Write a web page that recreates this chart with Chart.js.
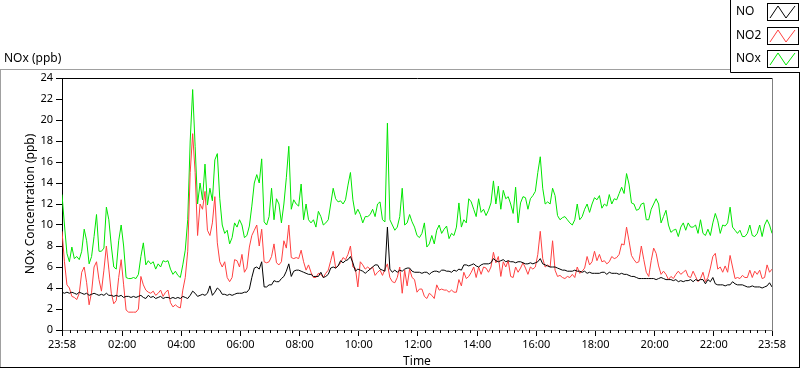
<!DOCTYPE html>
<html>
<head>
<meta charset="utf-8">
<script src="https://cdn.jsdelivr.net/npm/chart.js@4/dist/chart.umd.min.js"></script>
<style>
  html, body { margin: 0; padding: 0; background: #fff; }
  #wrap { width: 800px; height: 369px; }
</style>
</head>
<body>
<div id="wrap"><canvas id="chart" width="800" height="369"></canvas></div>
<script>
// readings every 5 minutes starting at 23:58
const startTime = '23:58';
const stepMinutes = 5;
const tickLabels = ['23:58', '02:00', '04:00', '06:00', '08:00', '10:00', '12:00',
                    '14:00', '16:00', '18:00', '20:00', '22:00', '23:58'];
const seriesNames = ['NO', 'NO2', 'NOx'];
const seriesColors = ['#000000', '#ff4040', '#00e600'];

const no = [
  // 23:58 - 05:53
  3.6,3.5,3.6,3.5,3.6,3.5,3.4,3.6,3.5,3.4, 3.5,3.3,3.4,3.5,3.4,3.3,3.4,3.3,3.5,3.3,
  3.3,3.2,3.3,3.2,3.3,3.1,3.2,3.2,3.1,3.2, 3.1,3.2,3.3,3.1,3.0,3.3,3.1,3.2,3.0,3.1,
  3.2,3.0,3.1,3.1,3.0,3.1,3.0,3.1,3.0,3.2, 3.1,3.0,3.3,3.7,3.5,3.2,3.3,3.4,3.3,3.5,
  4.2,3.3,3.6,4.0,3.8,3.4,3.4,3.3,3.4,3.3, 3.4,3.5,
  // 05:58 - 11:58
  3.5,3.5,3.6,3.6,3.9,5.0,5.9,6.0,5.8,6.5, 4.1,4.1,4.3,4.3,4.7,4.6,4.6,4.9,5.1,5.6,
  6.3,5.1,5.6,5.7,5.7,5.6,5.5,5.4,5.3,5.3, 5.1,5.1,5.1,5.5,5.0,5.1,5.3,5.9,6.0,5.9,
  6.1,6.6,6.4,6.6,6.7,7.0,6.4,5.6,5.8,5.7, 5.6,5.4,5.6,5.8,6.0,6.2,6.2,5.8,5.7,5.6,
  9.8,5.8,5.5,5.7,5.5,5.7,5.6,5.8,5.9,5.9, 5.6,5.5,5.5,
  // 12:03 - 17:58
  5.5,5.4,5.5,5.5,5.3,5.5,5.6,5.6,5.5, 5.7,5.7,5.6,5.6,5.5,5.7,5.6,5.8,5.7,6.2,
  6.2,6.1,6.2,6.3,6.1,6.0,6.2,6.3,6.3,6.3, 6.4,6.8,6.6,6.5,6.6,6.7,6.5,6.6,6.5,6.5,
  6.4,6.5,6.5,6.4,6.3,6.3,6.4,6.3,6.4,6.5, 6.8,6.3,6.2,6.1,6.0,6.0,6.0,5.9,5.8,5.7,
  5.7,5.6,5.6,5.6,5.7,5.6,5.6,5.5,5.6,5.4, 5.5,5.4,5.4,
  // 18:03 - 23:58
  5.4,5.4,5.5,5.5,5.3,5.5,5.4,5.4,5.4, 5.3,5.4,5.3,5.3,5.2,5.1,5.1,5.0,4.9,4.9,
  4.9,4.9,4.9,4.9,4.9,4.8,4.9,5.0,4.9,4.8, 4.8,4.8,4.7,4.8,4.6,4.7,4.6,4.7,4.7,4.8,
  4.6,4.8,4.7,4.8,4.8,4.4,4.8,4.6,5.0,4.4, 4.3,4.3,4.3,4.2,4.3,4.3,4.6,4.4,4.3,4.3,
  4.3,4.2,4.1,4.1,4.2,4.1,4.1,4.1,4.0,4.1, 4.2,4.5,4.1
];

const no2 = [
  9.4,6.5,4.3,4.0,3.2,3.1,2.9,3.5,5.5,6.0, 4.5,2.4,3.6,6.0,6.5,4.8,3.7,5.7,8.0,5.8,
  3.5,2.5,2.8,5.0,6.7,4.3,1.9,1.7,1.7,1.7, 1.7,2.0,5.1,4.3,3.8,3.6,3.5,3.7,3.3,3.5,
  3.8,3.2,3.6,3.8,2.6,2.2,2.4,2.2,2.1,3.8, 5.0,7.5,15.0,18.7,15.0,9.0,12.0,11.5,13.2,9.5,
  9.0,10.2,12.7,8.3,6.5,6.0,6.5,5.0,4.6,5.0, 6.7,6.6,
  6.0,7.2,5.5,5.9,7.9,9.0,9.5,10.0,8.0,9.6, 6.5,6.4,6.5,7.0,8.2,6.4,6.2,6.5,8.5,7.8,
  10.0,6.9,6.8,6.9,6.8,7.6,6.5,5.7,6.2,5.5, 5.0,5.0,5.4,5.3,5.0,5.4,5.7,6.6,7.5,5.9,
  6.1,6.4,6.9,6.7,7.2,8.0,6.0,5.9,4.1,6.5, 6.2,5.8,6.0,5.8,6.0,5.2,5.5,5.7,5.2,5.8,
  6.3,5.0,4.6,4.5,5.0,6.0,3.5,5.7,4.2,5.8, 5.0,4.8,3.6,
  3.9,3.9,3.2,3.0,3.5,3.3,3.0,4.3,3.8, 3.9,3.8,3.8,3.6,3.8,3.6,3.6,4.8,4.2,5.5,
  4.9,5.1,5.5,6.0,5.0,6.0,5.3,6.0,5.9,5.5, 6.0,7.4,6.4,7.0,5.1,6.5,6.0,6.6,5.1,5.0,
  6.0,5.5,5.9,6.4,5.9,5.3,6.0,5.8,6.0,7.2, 9.4,6.8,6.0,6.2,6.0,8.5,5.7,5.1,5.2,5.0,
  4.9,5.1,5.0,5.3,5.0,6.0,5.4,5.6,5.9,7.0, 6.2,6.5,7.5,
  6.6,7.2,6.5,6.6,6.3,6.5,7.0,6.8,6.9, 7.2,8.2,8.1,9.8,8.5,7.1,6.7,6.4,6.5,8.0,
  6.7,5.5,5.1,6.6,7.8,7.3,6.1,5.3,5.6,5.3, 4.8,5.1,4.9,5.3,5.6,5.3,5.5,5.7,5.1,5.0,
  5.6,5.1,4.6,4.9,5.5,4.6,5.0,5.9,7.0,7.3, 5.8,6.0,5.5,6.1,5.5,7.1,6.0,4.9,5.0,4.9,
  5.2,5.0,5.0,5.7,5.0,5.6,5.3,5.7,4.9,5.0, 6.2,5.5,5.8
];

const nox = [
  12.9,10.0,7.3,6.5,7.9,6.8,7.0,6.7,7.5,9.6, 8.5,6.3,7.0,8.9,11.0,7.5,7.5,7.8,11.7,10.5,
  8.0,6.0,5.8,8.5,10.0,8.0,5.0,4.9,4.9,5.0, 4.9,5.3,7.0,8.3,6.2,6.6,6.3,6.5,5.8,6.3,
  6.0,6.6,6.5,6.6,5.8,5.3,5.6,5.2,5.0,6.2, 7.6,10.5,18.0,22.9,17.5,12.0,14.0,12.4,15.8,11.9,
  13.5,12.3,16.2,16.8,12.5,10.0,9.2,9.5,8.2,8.8, 10.2,9.8,
  10.5,10.0,8.8,9.0,9.9,11.8,14.0,14.8,14.0,16.3, 10.3,10.0,10.8,13.5,10.5,12.5,12.0,10.2,12.0,14.5,
  17.5,11.5,12.4,12.0,11.8,13.9,10.5,12.0,10.5,10.2, 10.5,9.8,11.3,10.8,10.0,10.2,10.5,12.0,13.5,12.5,
  12.2,12.3,12.0,12.4,13.8,15.0,12.4,11.0,11.5,11.0, 10.2,10.8,10.8,11.0,11.5,10.8,12.0,12.2,10.5,10.3,
  19.7,10.5,10.0,9.5,9.8,10.8,13.5,10.0,10.2,11.0, 10.3,9.8,9.0,
  8.8,9.2,10.2,7.9,8.2,9.0,8.2,9.5,10.0, 9.2,9.6,9.9,8.7,9.2,9.0,9.8,12.1,9.8,10.5,
  10.2,12.5,12.2,11.5,10.8,12.5,11.2,11.5,10.9,11.4, 12.1,14.2,12.0,13.7,11.5,13.3,12.5,12.7,12.0,11.1,
  13.6,10.2,12.1,12.7,12.6,11.5,12.5,12.8,13.2,15.0, 16.5,13.5,12.0,12.2,12.0,13.5,12.8,10.9,10.5,10.7,
  10.8,10.5,10.2,10.0,10.5,12.0,10.5,10.8,11.5,12.0, 11.2,12.0,12.6,
  12.4,12.8,11.6,12.0,11.8,12.9,12.0,12.5,12.4, 13.0,13.6,13.0,14.9,13.9,12.1,12.0,11.4,11.5,12.0,
  12.1,10.5,10.5,11.5,12.0,12.5,12.0,10.2,10.8,11.4, 10.0,9.3,9.5,9.6,8.9,9.8,10.2,9.5,10.2,9.8,
  9.8,10.0,9.2,10.5,9.2,9.0,9.6,9.0,10.2,11.1, 10.4,9.2,10.0,9.9,10.2,11.7,9.8,9.5,9.2,9.5,
  8.9,8.9,9.2,10.0,9.0,8.9,9.2,10.0,8.9,10.0, 10.5,10.0,9.2
];

function clockMinutes(s) {
  let p = s.split(':');
  return parseInt(p[0]) * 60 + parseInt(p[1]);
}
// hours elapsed since startTime for each tick label
const tickHours = tickLabels.map((lab, i) => {
  let m = clockMinutes(lab) - clockMinutes(startTime);
  if (m < 0 || (m === 0 && i > 0)) m += 1440;
  return m / 60;
});

function points(values) {
  return values.map((v, i) => ({ x: i * stepMinutes / 60, y: v }));
}

const tickFont = { family: "'Noto Sans', sans-serif", size: 11 };
const titleFont = { family: "'Noto Sans', sans-serif", size: 12 };

// frame, panel caption, minor ticks and the LabVIEW style legend
const panelPlugin = {
  id: 'panel',
  afterDraw(chart) {
    const ctx = chart.ctx;
    const a = chart.chartArea;
    const xs = chart.scales.x;
    ctx.save();
    ctx.lineWidth = 1;

    // minor ticks, 7 between every pair of labelled ticks
    ctx.strokeStyle = '#000';
    ctx.beginPath();
    for (let i = 0; i < tickHours.length - 1; i++) {
      for (let j = 1; j < 8; j++) {
        let v = tickHours[i] + (tickHours[i + 1] - tickHours[i]) * j / 8;
        let px = Math.round(xs.getPixelForValue(v)) + 0.5;
        ctx.moveTo(px, a.bottom);
        ctx.lineTo(px, a.bottom + 3);
      }
    }
    ctx.stroke();

    // plot frame top / right
    ctx.beginPath();
    ctx.strokeStyle = '#000';
    ctx.moveTo(a.left, a.top + 0.5);
    ctx.lineTo(a.right + 1, a.top + 0.5);
    ctx.stroke();
    ctx.beginPath();
    ctx.strokeStyle = '#808080';
    ctx.moveTo(a.right + 0.5, a.top);
    ctx.lineTo(a.right + 0.5, a.bottom);
    ctx.stroke();

    // outer panel
    ctx.beginPath();
    ctx.strokeStyle = '#a0a0a0';
    ctx.moveTo(0, 69.5); ctx.lineTo(730, 69.5);
    ctx.moveTo(0.5, 69); ctx.lineTo(0.5, 368);
    ctx.stroke();
    ctx.beginPath();
    ctx.strokeStyle = '#000';
    ctx.moveTo(0, 367.5); ctx.lineTo(800, 367.5);
    ctx.moveTo(799.5, 0); ctx.lineTo(799.5, 368);
    ctx.stroke();

    ctx.fillStyle = '#000';
    ctx.font = "12px 'Noto Sans', sans-serif";
    ctx.textBaseline = 'middle';
    ctx.textAlign = 'left';
    ctx.fillText('NOx (ppb)', 4, 59);

    // legend box
    ctx.fillStyle = '#fff';
    ctx.fillRect(730, 0, 70, 72);
    ctx.beginPath();
    ctx.strokeStyle = '#000';
    ctx.moveTo(730.5, 0); ctx.lineTo(730.5, 72.5); ctx.lineTo(800, 72.5);
    ctx.stroke();
    chart.data.datasets.forEach((ds, i) => {
      const top = 3 + i * 23.5;
      ctx.fillStyle = '#000';
      ctx.fillText(ds.label, 736, top + 9);
      ctx.fillStyle = '#fff';
      ctx.fillRect(767, top, 31, 17);
      ctx.strokeStyle = '#000';
      ctx.strokeRect(767.5, Math.round(top) + 0.5, 31, 17);
      const y0 = Math.round(top) + 15, y1 = Math.round(top) + 3;
      ctx.beginPath();
      ctx.strokeStyle = ds.borderColor;
      ctx.moveTo(770, y0);
      ctx.lineTo(778, y1);
      ctx.lineTo(786, y0);
      ctx.lineTo(795, y1);
      ctx.stroke();
    });
    ctx.restore();
  }
};

const ctx = document.getElementById('chart').getContext('2d');
const chart = new Chart(ctx, {
  type: 'line',
  data: {
    datasets: [
      { label: seriesNames[0], data: points(no), borderColor: seriesColors[0] },
      { label: seriesNames[1], data: points(no2), borderColor: seriesColors[1] },
      { label: seriesNames[2], data: points(nox), borderColor: seriesColors[2] }
    ]
  },
  options: {
    responsive: false,
    animation: false,
    events: [],
    layout: { padding: { top: 78, right: 28, bottom: 0, left: 0 } },
    plugins: { legend: { display: false }, tooltip: { enabled: false } },
    elements: {
      point: { radius: 0 },
      line: { borderWidth: 1, tension: 0 }
    },
    scales: {
      x: {
        type: 'linear',
        min: 0,
        max: 24,
        afterBuildTicks: s => { s.ticks = tickHours.map(v => ({ value: v })); },
        afterFit: s => { s.height = 39; },
        ticks: {
          autoSkip: false, maxRotation: 0, padding: 2, color: '#000', font: tickFont,
          callback: (v, i) => tickLabels[i]
        },
        grid: { drawOnChartArea: false, tickLength: 6, color: '#000' },
        border: { color: '#808080' },
        title: { display: true, text: 'Time', color: '#000', font: titleFont, padding: { top: 0, bottom: 0 } }
      },
      y: {
        min: 0,
        max: 24,
        afterFit: s => { s.width = 62; },
        ticks: { stepSize: 2, padding: 3, color: '#000', font: tickFont },
        grid: { drawOnChartArea: false, tickLength: 6, color: '#000' },
        border: { color: '#000' },
        title: {
          display: true, text: 'NOx Concentration (ppb)', color: '#000', font: titleFont,
          padding: { top: 23, bottom: 0 }
        }
      }
    }
  },
  plugins: [panelPlugin]
});
</script>
</body>
</html>
